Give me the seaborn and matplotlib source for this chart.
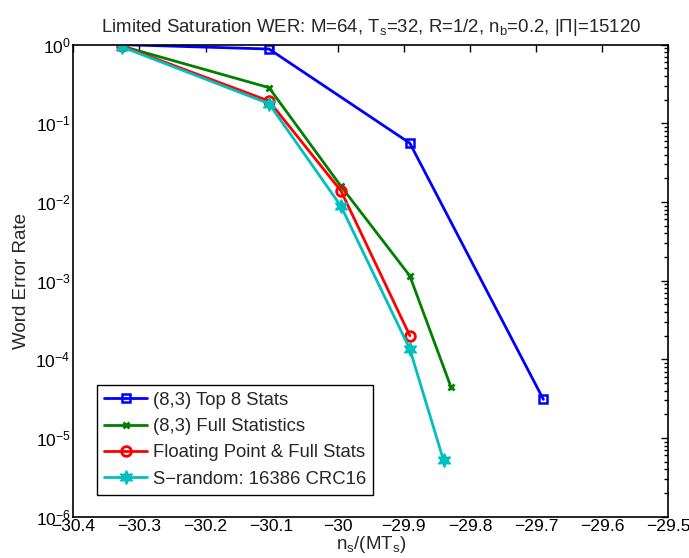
import numpy as np
import pandas as pd
import matplotlib
matplotlib.use("Agg")
import matplotlib.pyplot as plt
import seaborn as sns
from matplotlib.ticker import LogLocator, FixedLocator

sns.set_theme(style="white")
plt.rcParams['font.family'] = ['Liberation Sans', 'DejaVu Sans']
plt.rcParams['mathtext.fontset'] = 'custom'
plt.rcParams['mathtext.rm'] = 'Liberation Sans'
plt.rcParams['mathtext.it'] = 'Liberation Sans'

# Data
top8_x = [-30.327, -30.104, -29.891, -29.689]
top8_y = [1.0, 0.88, 0.056, 3.1e-5]
full_x = [-30.327, -30.104, -29.995, -29.891, -29.829]
full_y = [0.96, 0.284, 0.0158, 1.15e-3, 4.5e-5]
float_x = [-30.327, -30.104, -29.995, -29.891]
float_y = [0.96, 0.192, 0.0138, 2.0e-4]
srand_x = [-30.327, -30.104, -29.995, -29.891, -29.840]
srand_y = [0.94, 0.178, 0.0088, 1.35e-4, 5.2e-6]

labels = ["(8,3) Top 8 Stats", "(8,3) Full Statistics",
          "Floating Point & Full Stats", "S\u2212random: 16386 CRC16"]
xticks = [-30.4, -30.3, -30.2, -30.1, -30.0, -29.9, -29.8, -29.7, -29.6, -29.5]
xticklabels = ["\u221230.4", "\u221230.3", "\u221230.2", "\u221230.1", "\u221230",
               "\u221229.9", "\u221229.8", "\u221229.7", "\u221229.6", "\u221229.5"]

fig = plt.figure(figsize=(6.89, 5.58), dpi=100)
ax = fig.add_axes([0.1064, 0.074, 0.8636, 0.846])

series = [
    (top8_x, top8_y, labels[0], "#0000ff", "s", dict(markersize=5.5, markerfacecolor="none", markeredgewidth=1.8)),
    (full_x, full_y, labels[1], "#008000", "x", dict(markersize=5, markeredgewidth=2)),
    (float_x, float_y, labels[2], "#ff0000", "o", dict(markersize=7, markerfacecolor="none", markeredgewidth=2)),
    (srand_x, srand_y, labels[3], "#00bfbf", (6, 1, 0), dict(markersize=10, markeredgewidth=1)),
]
for xs, ys, lab, col, mk, kw in series:
    df = pd.DataFrame({"x": xs, "y": ys})
    sns.lineplot(data=df, x="x", y="y", ax=ax, color=col, marker=mk,
                 linewidth=2, label=lab, markeredgecolor=col, **kw)

ax.set_yscale("log")
ax.set_xlim(-30.4, -29.5)
ax.set_ylim(1e-6, 1e0)
ax.xaxis.set_major_locator(FixedLocator(xticks))
ax.set_xticklabels(xticklabels)
ax.yaxis.set_major_locator(LogLocator(base=10, numticks=10))
ax.yaxis.set_minor_locator(LogLocator(base=10, subs=np.arange(2, 10), numticks=20))
ax.tick_params(axis="both", which="both", direction="in", top=True, right=True,
               labelsize=12.6, colors="black", width=1, pad=2)
ax.tick_params(axis="both", which="major", length=5)
ax.tick_params(axis="y", which="minor", length=3)
for sp in ax.spines.values():
    sp.set_color("black")
    sp.set_linewidth(1.2)

ax.set_xlabel(r"n$_\mathregular{s}$/(MT$_\mathregular{s}$)", fontsize=13.5, labelpad=0)
ax.set_ylabel("Word Error Rate", fontsize=13.5, labelpad=4)
ax.set_title(r"Limited Saturation WER: M=64, T$_\mathregular{s}$=32, R=1/2, n$_\mathregular{b}$=0.2, |$\Pi$|=15120",
             fontsize=13.4, pad=9)

leg = ax.legend(loc="lower left", bbox_to_anchor=(0.04, 0.046), fontsize=13.3,
                frameon=True, fancybox=False, edgecolor="black", framealpha=1,
                handlelength=2.3, handletextpad=0.3, borderpad=0.4, labelspacing=0.5,
                borderaxespad=0, numpoints=1)
leg.get_frame().set_linewidth(1.0)

fig.savefig("out.png", dpi=100)
